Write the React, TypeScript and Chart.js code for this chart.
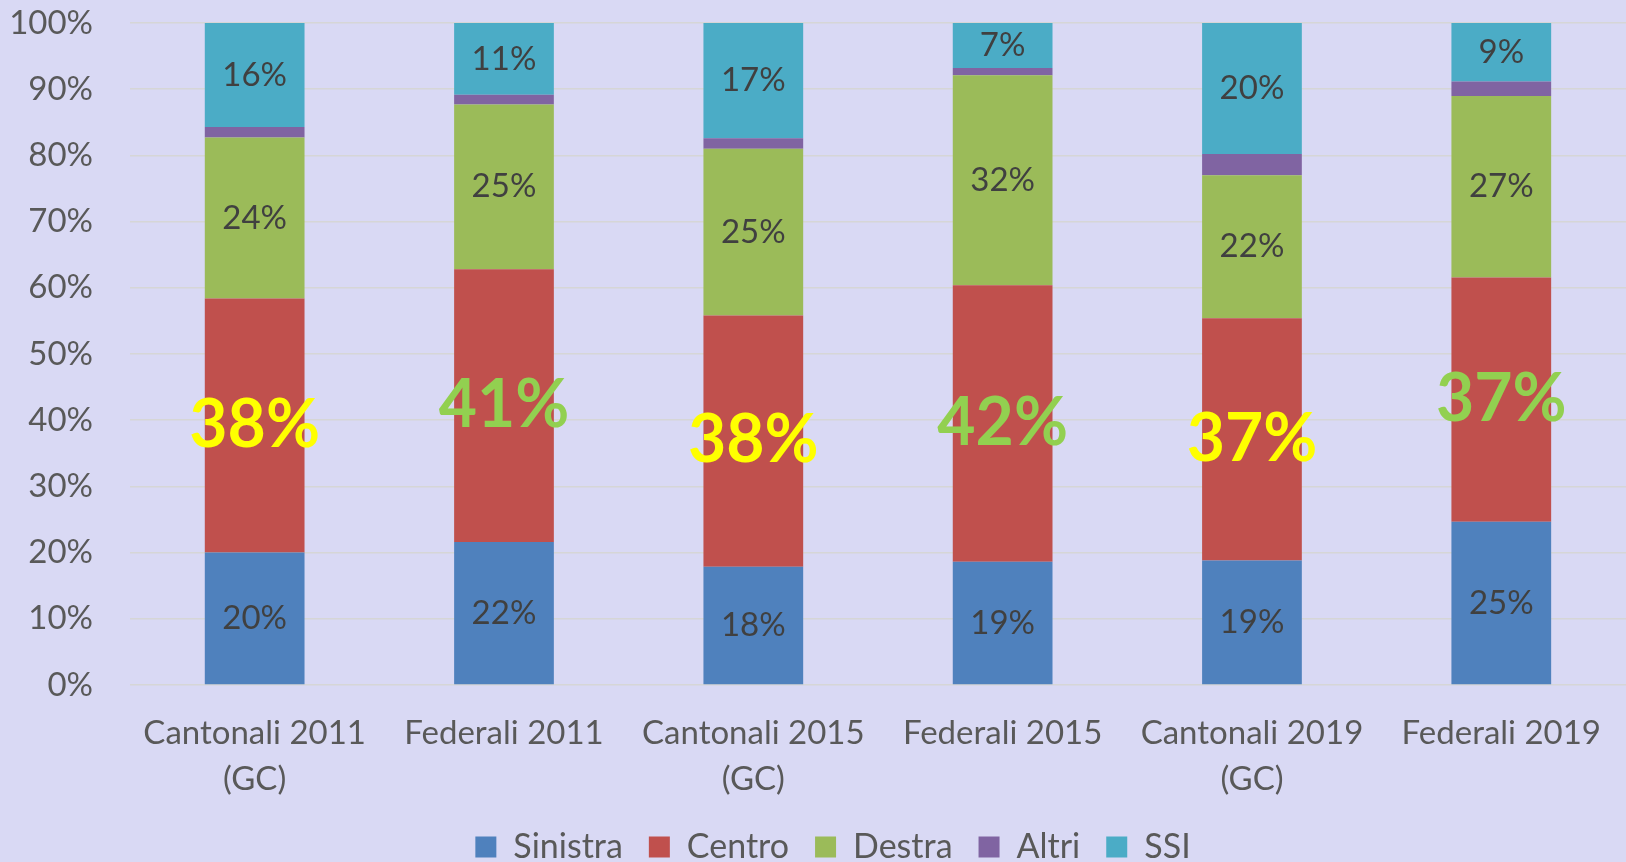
import React, { useEffect, useRef } from "react";
import { Chart, registerables } from "chart.js";

Chart.register(...registerables);

const categories: string[][] = [
  ["Cantonali 2011", "(GC)"],
  ["Federali 2011"],
  ["Cantonali 2015", "(GC)"],
  ["Federali 2015"],
  ["Cantonali 2019", "(GC)"],
  ["Federali 2019"],
];

const sinistra = [20.0, 21.6, 17.85, 18.6, 18.8, 24.66];
const centro = [38.4, 41.2, 37.95, 41.8, 36.6, 36.9];
const destra = [24.3, 24.9, 25.2, 31.7, 21.6, 27.4];
const altri = [1.6, 1.45, 1.6, 1.1, 3.2, 2.2];
const ssi = [15.7, 10.85, 17.4, 6.8, 19.8, 8.84];

const yTicks = [0, 10, 20, 30, 40, 50, 60, 70, 80, 90, 100];

const FONT = "Lato";
const centroLabelColors = ["#FFFF00", "#92D050", "#FFFF00", "#92D050", "#FFFF00", "#92D050"];

const labelPlugin = {
  id: "segLabels",
  afterDatasetsDraw(chart: any) {
    const ctx = chart.ctx;
    ctx.save();
    ctx.textAlign = "center";
    ctx.textBaseline = "middle";
    chart.data.datasets.forEach((ds: any, i: number) => {
      if (ds.label === "Altri") return;
      const meta = chart.getDatasetMeta(i);
      meta.data.forEach((bar: any, j: number) => {
        const v = ds.data[j];
        const y = (bar.y + bar.base) / 2;
        const txt = Math.round(v) + "%";
        if (ds.label === "Centro") {
          ctx.font = `bold 66px ${FONT}`;
          ctx.fillStyle = centroLabelColors[j];
        } else {
          ctx.font = `33px ${FONT}`;
          ctx.fillStyle = "#404040";
        }
        ctx.fillText(txt, bar.x, y);
      });
    });
    ctx.restore();
  },
};

const bgPlugin = {
  id: "bg",
  beforeDraw(chart: any) {
    const ctx = chart.ctx;
    ctx.save();
    ctx.fillStyle = "#D9D9F4";
    ctx.fillRect(0, 0, chart.width, chart.height);
    ctx.restore();
  },
  afterLayout(chart: any) {
    if (chart.legend) {
      chart.legend.left += 20;
      chart.legend.right += 20;
    }
  },
};

export default function App() {
  const ref = useRef<HTMLCanvasElement | null>(null);
  useEffect(() => {
    document.body.style.margin = "0";
    document.body.style.background = "#D9D9F4";
    const canvas = ref.current!;
    const chart = new Chart(canvas, {
      type: "bar",
      data: {
        labels: categories as any,
        datasets: [
          { label: "Sinistra", data: sinistra, backgroundColor: "#4F81BD" },
          { label: "Centro", data: centro, backgroundColor: "#C0504D" },
          { label: "Destra", data: destra, backgroundColor: "#9BBB59" },
          { label: "Altri", data: altri, backgroundColor: "#8064A2" },
          { label: "SSI", data: ssi, backgroundColor: "#4BACC6" },
        ],
      },
      options: {
        animation: false,
        responsive: false,
        devicePixelRatio: 1,
        layout: { padding: { top: 23, right: 0, left: 0, bottom: -12 } },
        datasets: { bar: { barPercentage: 0.4, categoryPercentage: 1 } } as any,
        plugins: {
          tooltip: { enabled: false },
          legend: {
            position: "bottom",
            labels: {
              boxWidth: 21,
              boxHeight: 21,
              padding: 26,
              color: "#595959",
              font: { family: FONT, size: 34 },
            },
          },
        },
        scales: {
          x: {
            stacked: true,
            grid: { display: false, drawTicks: false },
            border: { display: false },
            afterFit(scale: any) {
              scale.height = 119;
            },
            ticks: {
              color: "#595959",
              font: { family: FONT, size: 33, lineHeight: 1.4 },
              padding: 25,
              maxRotation: 0,
              autoSkip: false,
            },
          },
          y: {
            stacked: true,
            min: 0,
            max: 100,
            afterBuildTicks(scale: any) {
              scale.ticks = yTicks.map((v) => ({ value: v }));
            },
            afterFit(scale: any) {
              scale.width = 130;
              scale.paddingTop = 0;
              scale.paddingBottom = 0;
            },
            grid: { color: "#D6D6D6", lineWidth: 1.5, drawTicks: false },
            border: { display: false },
            ticks: {
              color: "#595959",
              font: { family: FONT, size: 33 },
              padding: 37,
              callback: (v: any) => v + "%",
            },
          },
        },
      },
      plugins: [bgPlugin, labelPlugin],
    });
    return () => chart.destroy();
  }, []);
  return (
    <div style={{ width: 1626, height: 862, background: "#D9D9F4" }}>
      <canvas ref={ref} width={1626} height={862} style={{ display: "block" }} />
    </div>
  );
}
